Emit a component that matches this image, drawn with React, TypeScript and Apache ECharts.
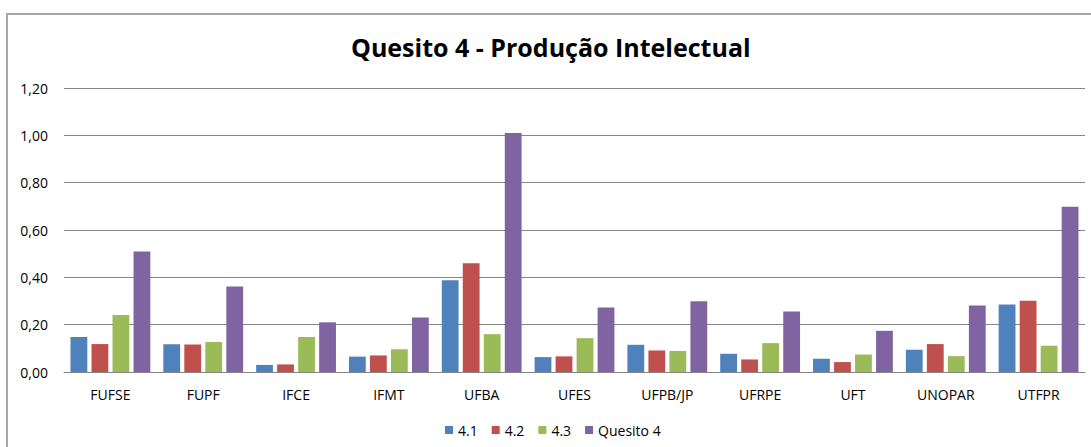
import React, { useEffect, useRef } from "react";
import * as echarts from "echarts";

const categories = ["FUFSE", "FUPF", "IFCE", "IFMT", "UFBA", "UFES", "UFPB/JP", "UFRPE", "UFT", "UNOPAR", "UTFPR"];
const s41 = [0.148, 0.117, 0.030, 0.065, 0.388, 0.063, 0.115, 0.077, 0.056, 0.094, 0.285];
const s42 = [0.118, 0.116, 0.032, 0.070, 0.460, 0.066, 0.091, 0.053, 0.042, 0.118, 0.301];
const s43 = [0.241, 0.127, 0.148, 0.096, 0.160, 0.143, 0.089, 0.122, 0.074, 0.067, 0.111];
const quesito4 = [0.509, 0.361, 0.210, 0.230, 1.010, 0.273, 0.299, 0.256, 0.174, 0.281, 0.698];
const seriesNames = ["4.1", "4.2", "4.3", "Quesito 4"];
const colors = ["#4F81BD", "#C0504D", "#9BBB59", "#8064A2"];

const FONT = "'Open Sans', 'Noto Sans', sans-serif";

export default function App() {
  const ref = useRef<HTMLDivElement>(null);
  useEffect(() => {
    if (!ref.current) return;
    const chart = echarts.init(ref.current, null, { renderer: "svg" });
    const data = [s41, s42, s43, quesito4];
    chart.setOption({
      animation: false,
      backgroundColor: "#ffffff",
      color: colors,
      title: {
        text: "Quesito 4 - Produção Intelectual",
        left: 346,
        top: 29,
        textStyle: { fontFamily: FONT, fontSize: 25, fontWeight: "bold", color: "#000" },
      },
      graphic: [
        {
          type: "rect",
          shape: { x: 7, y: 14, width: 1100, height: 450 },
          style: { fill: "none", stroke: "#A6A6A6", lineWidth: 2 },
          silent: true,
        },
      ],
      legend: {
        bottom: 5,
        left: 440,
        itemWidth: 8,
        itemHeight: 8,
        itemGap: 14,
        icon: "rect",
        textStyle: { fontFamily: FONT, fontSize: 14, color: "#000", padding: [0, 0, 0, 0] },
        data: seriesNames,
      },
      grid: { left: 64, right: 6, top: 88, bottom: 75, containLabel: false },
      xAxis: {
        type: "category",
        data: categories,
        axisLine: { lineStyle: { color: "#868686", width: 1 } },
        axisTick: { show: false },
        axisLabel: { fontFamily: FONT, fontSize: 14, color: "#000", margin: 15 },
      },
      yAxis: {
        type: "value",
        min: 0,
        max: 1.2,
        interval: 0.2,
        axisLine: { show: false },
        axisTick: { show: false },
        splitLine: { lineStyle: { color: "#868686", width: 1 } },
        axisLabel: {
          fontFamily: FONT,
          fontSize: 14,
          color: "#000",
          margin: 16,
          formatter: (v: number) => v.toFixed(2).replace(".", ","),
        },
      },
      series: seriesNames.map((name, i) => ({
        name,
        type: "bar",
        data: data[i],
        barGap: "25%",
        barCategoryGap: "14%",
        itemStyle: { color: colors[i] },
      })),
    });
    return () => chart.dispose();
  }, []);
  return (
    <div
      ref={ref}
      style={{ position: "fixed", left: 0, top: 0, width: 1091, height: 447 }}
    />
  );
}
